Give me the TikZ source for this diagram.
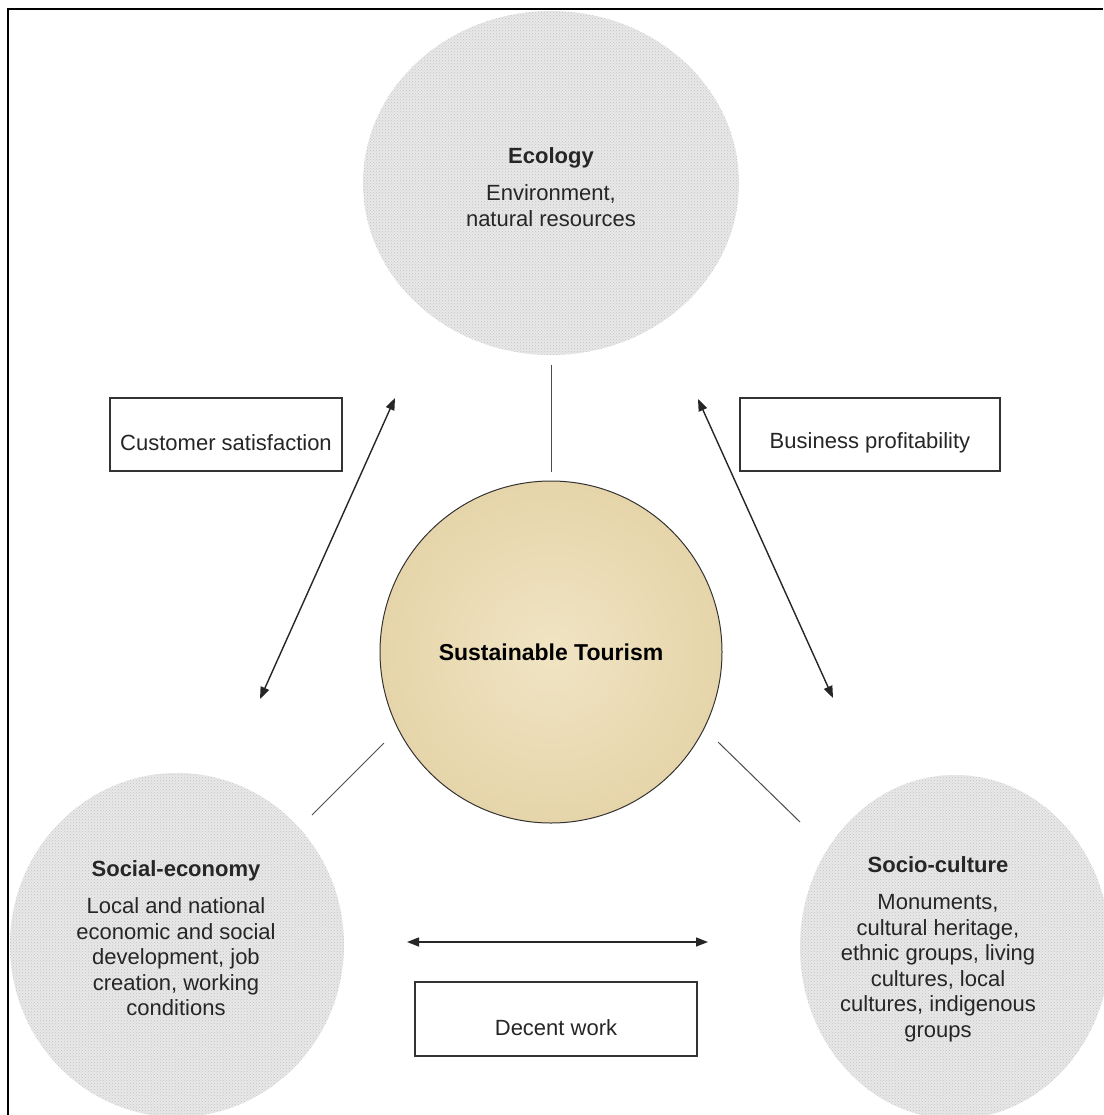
\documentclass[tikz,border=0pt]{standalone}
\usepackage{fontspec}
\setmainfont{Liberation Sans}
\usetikzlibrary{arrows.meta,shapes.geometric,patterns}
\definecolor{circgray}{RGB}{232,232,232}
\definecolor{dotgray}{RGB}{196,196,196}
\definecolor{sand}{RGB}{230,213,170}
\definecolor{sandlight}{RGB}{240,228,196}
\begin{document}
\begin{tikzpicture}[x=1pt,y=-1pt,
  pillar/.style={ellipse, preaction={fill=circgray}, pattern=crosshatch dots, pattern color=dotgray, draw=none, inner sep=0pt},
  body/.style={font=\fontsize{22}{25.5}\selectfont, align=center, text=black!85, inner sep=0pt},
  tagbox/.style={draw=black!80, line width=1.3pt, fill=white, inner sep=0pt},
  tagtext/.style={font=\fontsize{22}{26}\selectfont, text=black!85, inner sep=0pt},
  link/.style={draw=black!70, line width=1pt},
  dbl/.style={draw=black!85, line width=1.4pt, {Triangle[length=12pt,width=9pt]}-{Triangle[length=12pt,width=9pt]}}
]
\useasboundingbox (0,0) rectangle (1103,1115);
% frame
\draw[line width=2pt] (8,1115) -- (8,9) -- (1103,9);
% pillars
\node[pillar, minimum width=376pt, minimum height=344pt] (eco) at (551,183) {};
\node[pillar, minimum width=334pt, minimum height=344pt] (soc) at (177,945) {};
\node[pillar, minimum width=310pt, minimum height=344pt] (cul) at (955,947) {};
\node[body] (ecotext) at (551,187) {\textbf{Ecology}\\[12pt] Environment,\\ natural resources};
\node[body] (soctext) at (176,938) {\textbf{Social-economy}\\[12pt] Local and national\\ economic and social\\ development, job\\ creation, working\\ conditions};
\node[body] (cultext) at (938,949) {\textbf{Socio-culture}\\[12pt] Monuments,\\ cultural heritage,\\ ethnic groups, living\\ cultures, local\\ cultures, indigenous\\ groups};
% centre
\node[circle, minimum size=342pt, inner sep=0pt, inner color=sandlight, outer color=sand, draw=black!80, line width=1pt,
      font=\fontsize{23}{27}\selectfont\bfseries] (st) at (551,652) {Sustainable Tourism};
% boxes
\node[tagbox, minimum width=232pt, minimum height=73pt] (cust) at (226,434.5) {};
\node[tagtext] (custt) at (226,443) {Customer satisfaction};
\node[tagbox, minimum width=260pt, minimum height=73pt] (bus) at (870,434.5) {};
\node[tagtext] (bust) at (870,443) {Business profitability};
\node[tagbox, minimum width=282pt, minimum height=74pt] (dec) at (556,1019) {};
\node[tagtext] (dect) at (556,1028) {Decent work};
% thin links
\coordinate (t1) at (551,365); \coordinate (t2) at (551,472);
\coordinate (l1) at (384,743); \coordinate (l2) at (312,815);
\coordinate (r1) at (718,742); \coordinate (r2) at (800,822);
\draw[link] (t1) -- (t2);
\draw[link] (l1) -- (l2);
\draw[link] (r1) -- (r2);
% double arrows
\coordinate (a1) at (395,398); \coordinate (a2) at (260,699);
\coordinate (b1) at (698,399); \coordinate (b2) at (833,698);
\coordinate (c1) at (407,942); \coordinate (c2) at (708,942);
\draw[dbl] (a2) -- (a1);
\draw[dbl] (b1) -- (b2);
\draw[dbl] (c1) -- (c2);
\end{tikzpicture}
\end{document}
